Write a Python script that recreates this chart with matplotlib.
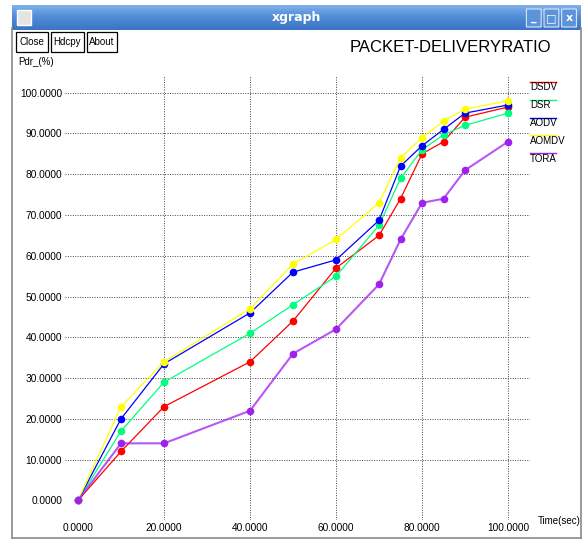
import matplotlib
matplotlib.use('Agg')
import matplotlib.pyplot as plt
from matplotlib.patches import Rectangle, FancyBboxPatch
from matplotlib.lines import Line2D
import numpy as np

W, H = 585, 540

# Data
time = [0, 10, 20, 40, 50, 60, 70, 75, 80, 85, 90, 100]
dsdv = [0, 12, 23, 34, 44, 57, 65, 74, 85, 88, 94, 96.5]
dsr = [0, 17, 29, 41, 48, 55, 67.5, 79, 86, 89.7, 92, 95]
aodv = [0, 20, 33.5, 46, 56, 59, 68.7, 82, 87, 91, 95, 97]
aomdv = [0, 23, 34, 47, 58, 64, 73, 84, 89, 93, 96, 98]
tora = [0, 14, 14, 22, 36, 42, 53, 64, 73, 74, 81, 88]

names = ['DSDV', 'DSR', 'AODV', 'AOMDV', 'TORA']
series = [dsdv, dsr, aodv, aomdv, tora]
colors = ['#ff0000', '#00ff7f', '#0000ff', '#ffff00', '#a020f0']

x_ticks = [0, 20, 40, 60, 80, 100]
y_ticks = [0, 10, 20, 30, 40, 50, 60, 70, 80, 90, 100]

plt.rcParams['font.family'] = ['Liberation Sans', 'DejaVu Sans']


def fx(px):
    return px / W


def fy(py):
    return 1 - py / H


fig = plt.figure(figsize=(W / 100, H / 100), dpi=100)
fig.patch.set_facecolor('white')

# window frame
fig.add_artist(Line2D([fx(12), fx(12)], [fy(28), fy(538)], color='#8a8a8a', lw=1.2))
fig.add_artist(Line2D([fx(581), fx(581)], [fy(28), fy(538)], color='#8a8a8a', lw=1.2))
fig.add_artist(Line2D([fx(12), fx(581)], [fy(538), fy(538)], color='#8a8a8a', lw=1.2))

# title bar with gradient
tb = fig.add_axes([fx(12), fy(30), fx(581) - fx(12), fy(5) - fy(30)])
grad = np.linspace(0, 1, 50).reshape(-1, 1)
tb.imshow(grad, aspect='auto', cmap=matplotlib.colors.LinearSegmentedColormap.from_list(
    'tb', ['#7fb0ea', '#4f8ad6', '#3b74c4']), extent=[0, 1, 0, 1], origin='upper')
tb.set_axis_off()
tb.add_patch(Rectangle((0.009, 0.2), 0.024, 0.58, facecolor='#e4e4e4', edgecolor='#ffffff', lw=1))
tb.text(0.5, 0.5, 'xgraph', color='white', fontsize=9, fontweight='bold',
        ha='center', va='center', family='DejaVu Sans')
for i, glyph in enumerate(['_', '□', 'x']):
    x0 = 0.904 + i * 0.031
    tb.add_patch(FancyBboxPatch((x0, 0.12), 0.026, 0.72, boxstyle='round,pad=0,rounding_size=0.005',
                                facecolor='#5d93d8', edgecolor='#d8e6f6', lw=0.8))
    tb.text(x0 + 0.013, 0.48, glyph, color='white', fontsize=8, fontweight='bold',
            ha='center', va='center', family='DejaVu Sans')

# buttons
for label, x0, x1 in [('Close', 16, 48), ('Hdcpy', 51, 84), ('About', 87, 117)]:
    fig.add_artist(Rectangle((fx(x0), fy(52)), fx(x1) - fx(x0), fy(32) - fy(52),
                             facecolor='white', edgecolor='black', lw=0.9))
    fig.text(fx((x0 + x1) / 2), fy(42), label, fontsize=7, ha='center', va='center')

fig.text(fx(350), fy(48), 'PACKET-DELIVERYRATIO', fontsize=12, ha='left', va='center')
fig.text(fx(18), fy(62), 'Pdr_(%)', fontsize=7, ha='left', va='center')
fig.text(fx(538), fy(521), 'Time(sec)', fontsize=7, ha='left', va='center')

# plot area
ax = fig.add_axes([fx(65), fy(520.4), fx(530) - fx(65), fy(75.6) - fy(520.4)])
ax.set_xlim(-3.02, 105.1)
ax.set_ylim(-4.9, 104.2)
for s in ax.spines.values():
    s.set_visible(False)
ax.set_facecolor('none')

for v in x_ticks[1:]:
    ax.axvline(v, color='#444444', lw=0.7, ls=(0, (1, 1.5)), zorder=1)
for v in y_ticks[1:]:
    ax.axhline(v, color='#444444', lw=0.7, ls=(0, (1, 1.5)), zorder=1)

ax.set_xticks(x_ticks)
ax.set_xticklabels(['%.4f' % v for v in x_ticks])
ax.set_yticks(y_ticks)
ax.set_yticklabels(['%.4f' % v for v in y_ticks])
ax.tick_params(length=0, labelsize=7.3, pad=2)

for i, (name, vals, c) in enumerate(zip(names, series, colors)):
    lw = 1.5 if name == 'TORA' else 0.9
    ax.plot(time, vals, color=c, lw=lw, alpha=0.75 if name == 'TORA' else 1, zorder=2 + i)
    ax.plot(time, vals, 'o', color=c, ms=5.5, mec='none', zorder=2 + i)

# legend: coloured line above each label
for i, (name, c) in enumerate(zip(names, colors)):
    ly = 82 + i * 17.8
    fig.add_artist(Line2D([fx(530), fx(556)], [fy(ly), fy(ly)], color=c, lw=1))
    fig.text(fx(530), fy(ly + 5.5), name, fontsize=7, ha='left', va='center')

fig.savefig('out.png', dpi=100)
